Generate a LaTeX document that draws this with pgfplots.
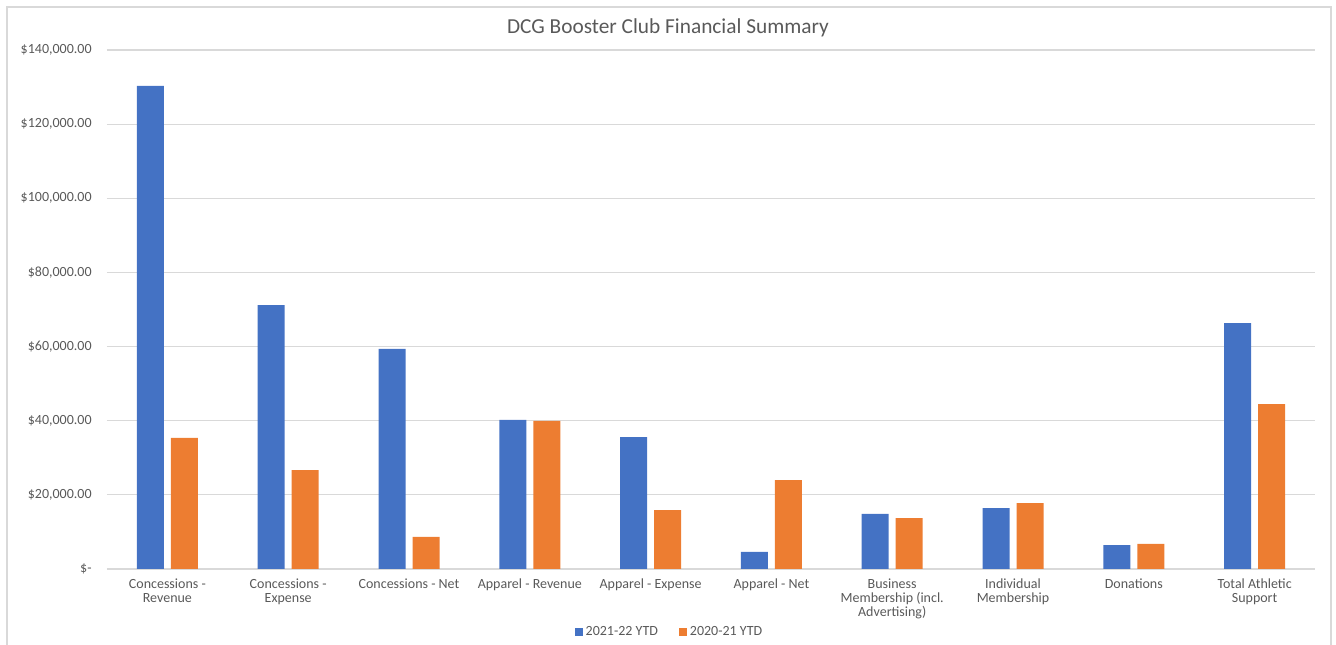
\documentclass[border=0pt]{standalone}
\usepackage{pgfplots}
\pgfplotsset{compat=1.18}
\usepackage{fontspec}
\setmainfont{Carlito}
\definecolor{cblue}{HTML}{4472C4}
\definecolor{corange}{HTML}{ED7D31}
\definecolor{ctext}{HTML}{595959}
\definecolor{cgrid}{HTML}{D9D9D9}
\begin{document}
\begin{tikzpicture}
\path[use as bounding box] (0pt,0pt) rectangle (1002pt,483.75pt);
\draw[cgrid,line width=0.9pt] (5.25pt,-15pt) rectangle (998.25pt,478.5pt);
\node[text=ctext,font=\fontsize{16}{18}\selectfont] at (501pt,462.75pt) {DCG Booster Club Financial Summary};
\begin{axis}[
  at={(80.25pt,57pt)}, anchor=south west,
  scale only axis, width=906pt, height=389.25pt,
  ybar, bar width=20.25pt,
  xmin=-0.5, xmax=9.5, ymin=0, ymax=140000,
  scaled y ticks=false,
  xtick=data,
  xticklabels={{Concessions -\\Revenue},{Concessions -\\Expense},{Concessions - Net},{Apparel - Revenue},{Apparel - Expense},{Apparel - Net},{Business\\Membership (incl.\\Advertising)},{Individual\\Membership},{Donations},{Total Athletic\\Support}},
  xticklabel style={align=center,font=\fontsize{10.5}{10.5}\selectfont,text=ctext,yshift=-4pt},
  ytick={0,20000,40000,60000,80000,100000,120000,140000},
  yticklabels={\$-,{\$20,000.00},{\$40,000.00},{\$60,000.00},{\$80,000.00},{\$100,000.00},{\$120,000.00},{\$140,000.00}},
  yticklabel style={font=\fontsize{10.5}{12}\selectfont,text=ctext,xshift=-8pt},
  major tick length=0pt,
  axis line style={draw=none},
  ymajorgrids, major grid style={draw=cgrid,line width=0.8pt},
  legend style={at={(0.466,-0.121)},anchor=center,draw=none,fill=none,font=\fontsize{10.5}{12}\selectfont,text=ctext,legend columns=2,/tikz/every even column/.append style={column sep=14pt}},
  legend image code/.code={\fill[#1] (0pt,-3pt) rectangle (6pt,3pt);},
]
\addplot[fill=cblue,draw=none,bar shift=-12.75pt] coordinates {
(0,130300) (1,71200) (2,59350) (3,40200) (4,35600) (5,4600) (6,14850) (7,16450) (8,6450) (9,66350)};
\addplot[fill=corange,draw=none,bar shift=12.75pt] coordinates {
(0,35350) (1,26700) (2,8650) (3,39950) (4,15900) (5,24000) (6,13750) (7,17800) (8,6750) (9,44500)};
\legend{2021-22 YTD,2020-21 YTD}
\end{axis}
\end{tikzpicture}
\end{document}
